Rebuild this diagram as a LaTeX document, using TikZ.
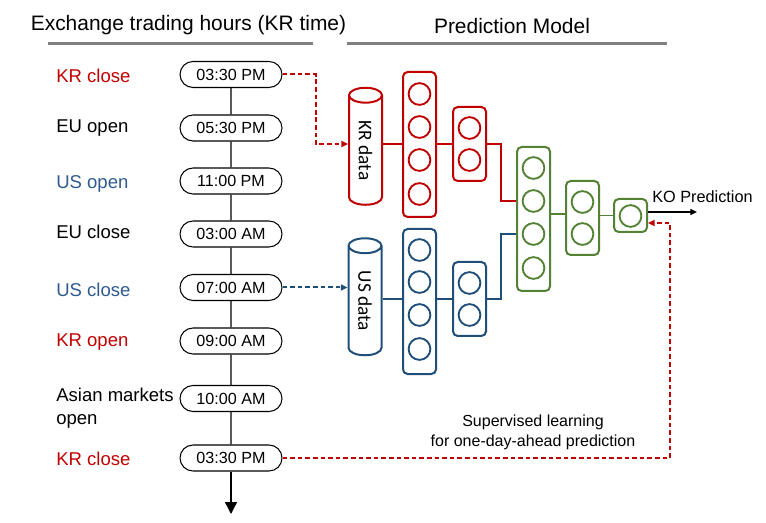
\documentclass[tikz,border=0pt]{standalone}
\usepackage{fontspec}
\setmainfont{Liberation Sans}
\newfontfamily\calibrifont{Carlito}
\usetikzlibrary{shapes.misc,shapes.geometric,arrows.meta}
\definecolor{krred}{HTML}{C00000}
\definecolor{usblue}{HTML}{1F4E79}
\definecolor{uslabel}{HTML}{2F5A8F}
\definecolor{nngreen}{HTML}{548235}
\begin{document}
\begin{tikzpicture}[x=0.75pt,y=-0.75pt]
\tikzstyle{every node}+=[inner sep=0pt]
\tikzstyle{pill}=[draw,rounded rectangle,minimum width=76.5pt,minimum height=19.5pt,line width=0.8pt,font=\fontsize{12.1}{14}\selectfont]
\tikzstyle{event}=[anchor=west,align=left,font=\fontsize{13.9}{17.25}\selectfont]
\tikzstyle{layer}=[draw,rounded corners=3.5pt,line width=1.5pt,minimum width=24.75pt]
\tikzstyle{unit}=[draw,circle,line width=1.4pt,minimum size=16.3pt]
\tikzstyle{store}=[draw,cylinder,shape border rotate=90,aspect=1.1,line width=1.5pt,minimum height=87.75pt,minimum width=24.75pt,font=\calibrifont\fontsize{14.5}{16}\selectfont]
\tikzstyle{rule}=[line width=2.25pt,gray]
\tikzstyle{tip}=[-{Triangle[length=5pt,width=4.5pt]}]
\tikzstyle{krdash}=[krred,line width=1.5pt,dash pattern=on 3.5pt off 2.2pt]
\tikzstyle{usdash}=[usblue,line width=1.5pt,dash pattern=on 3.5pt off 2.2pt]
\useasboundingbox (0,0) rectangle (766,523);
\node[font=\fontsize{15.7}{18}\selectfont] (title1) at (188.5,25) {Exchange trading hours (KR time)};
\node[font=\fontsize{15.7}{18}\selectfont] (title2) at (512,26) {Prediction Model};
\draw[rule] (48,44) -- (313,44);
\draw[rule] (347,44) -- (667,44);
\node[event,text=krred] (e1) at (56,76) {KR close};
\node[event] (e2) at (56,128) {EU open};
\node[event,text=uslabel] (e3) at (56,184) {US open};
\node[event] (e4) at (56,232) {EU close};
\node[event,text=uslabel] (e5) at (56,290) {US close};
\node[event,text=krred] (e6) at (56,342) {KR open};
\node[event] (e7) at (56,408.5) {Asian markets\\open};
\node[event,text=krred] (e8) at (56,459) {KR close};
\node[pill] (t1) at (231,74.5) {03:30 PM};
\node[pill] (t2) at (231,128) {05:30 PM};
\node[pill] (t3) at (231,181) {11:00 PM};
\node[pill] (t4) at (231,234) {03:00 AM};
\node[pill] (t5) at (231,287.5) {07:00 AM};
\node[pill] (t6) at (231,341) {09:00 AM};
\node[pill] (t7) at (231,398.5) {10:00 AM};
\node[pill] (t8) at (231,458) {03:30 PM};
\coordinate (tend) at (231,514);
\draw[line width=1.1pt] (t1) -- (t2) -- (t3) -- (t4) -- (t5) -- (t6) -- (t7) -- (t8);
\draw[line width=1.1pt,-{Triangle[length=9pt,width=9pt]}] (t8) -- (tend);
\node[store,krred] (krdata) at (365.5,150.5) {\rotatebox{-90}{\textcolor{black}{KR data}}};
\node[store,usblue] (usdata) at (365,301) {\rotatebox{-90}{\textcolor{black}{US data}}};
\node[layer,krred,minimum height=108.75pt] (kr1) at (419.5,144.5) {};
\node[layer,krred,minimum height=55.5pt] (kr2) at (469.5,144) {};
\node[layer,usblue,minimum height=108.75pt] (us1) at (419.5,301.5) {};
\node[layer,usblue,minimum height=55.5pt] (us2) at (469.5,299) {};
\node[layer,nngreen,minimum height=108pt] (g1) at (533.5,219) {};
\node[layer,nngreen,minimum height=55.5pt] (g2) at (582.5,218) {};
\node[layer,nngreen,minimum height=24.75pt] (g3) at (630.5,215.5) {};
\node[unit,krred] (kr1a) at (419.5,94) {};
\node[unit,krred] (kr1b) at (419.5,127) {};
\node[unit,krred] (kr1c) at (419.5,160) {};
\node[unit,krred] (kr1d) at (419.5,194) {};
\node[unit,krred] (kr2a) at (469.5,128) {};
\node[unit,krred] (kr2b) at (469.5,160) {};
\node[unit,usblue] (us1a) at (419.5,250) {};
\node[unit,usblue] (us1b) at (419.5,282) {};
\node[unit,usblue] (us1c) at (419.5,315) {};
\node[unit,usblue] (us1d) at (419.5,349) {};
\node[unit,usblue] (us2a) at (469.5,283) {};
\node[unit,usblue] (us2b) at (469.5,315) {};
\node[unit,nngreen] (g1a) at (533.5,168) {};
\node[unit,nngreen] (g1b) at (533.5,201) {};
\node[unit,nngreen] (g1c) at (533.5,234) {};
\node[unit,nngreen] (g1d) at (533.5,268) {};
\node[unit,nngreen] (g2a) at (582.5,202) {};
\node[unit,nngreen] (g2b) at (582.5,234) {};
\node[unit,nngreen] (g3a) at (630.5,216) {};
\draw[krred,line width=1.2pt] (kr2.west -| krdata.east) -- (kr2.west -| kr1.west);
\draw[krred,line width=1.2pt] (kr2.west -| kr1.east) -- (kr2.west);
\draw[krred,line width=1.2pt] (kr2.east) -- ++(14,0) |- (g1b -| g1.west);
\draw[usblue,line width=1.2pt] (us2.west -| usdata.east) -- (us2.west -| us1.west);
\draw[usblue,line width=1.2pt] (us2.west -| us1.east) -- (us2.west);
\draw[usblue,line width=1.2pt] (us2.east) -- ++(14,0) |- (g1c -| g1.west);
\draw[nngreen,line width=1.2pt] ([yshift=3pt]g2.west -| g1.east) -- ([yshift=3pt]g2.west);
\draw[nngreen,line width=1.2pt] (g3.west -| g2.east) -- (g3.west);
\node[anchor=west,font=\fontsize{12.2}{14}\selectfont] (ko) at (652,197) {KO Prediction};
\coordinate (koend) at (697,212);
\draw[tip,line width=1pt] (g3.east |- koend) -- (koend);
\draw[krdash,tip] (t1.east) -- ++(33,0) |- (krdata.west |- kr2.west);
\draw[usdash,tip] (t5.east) -- (t5.east -| usdata.west);
\node[align=center,font=\fontsize{12}{15}\selectfont] (sup) at (533,432) {Supervised learning\\for one-day-ahead prediction};
\coordinate (turn) at (670,223);
\draw[krdash,tip] (t8.east) -| (turn) -- (turn -| g3.east);
\end{tikzpicture}
\end{document}
